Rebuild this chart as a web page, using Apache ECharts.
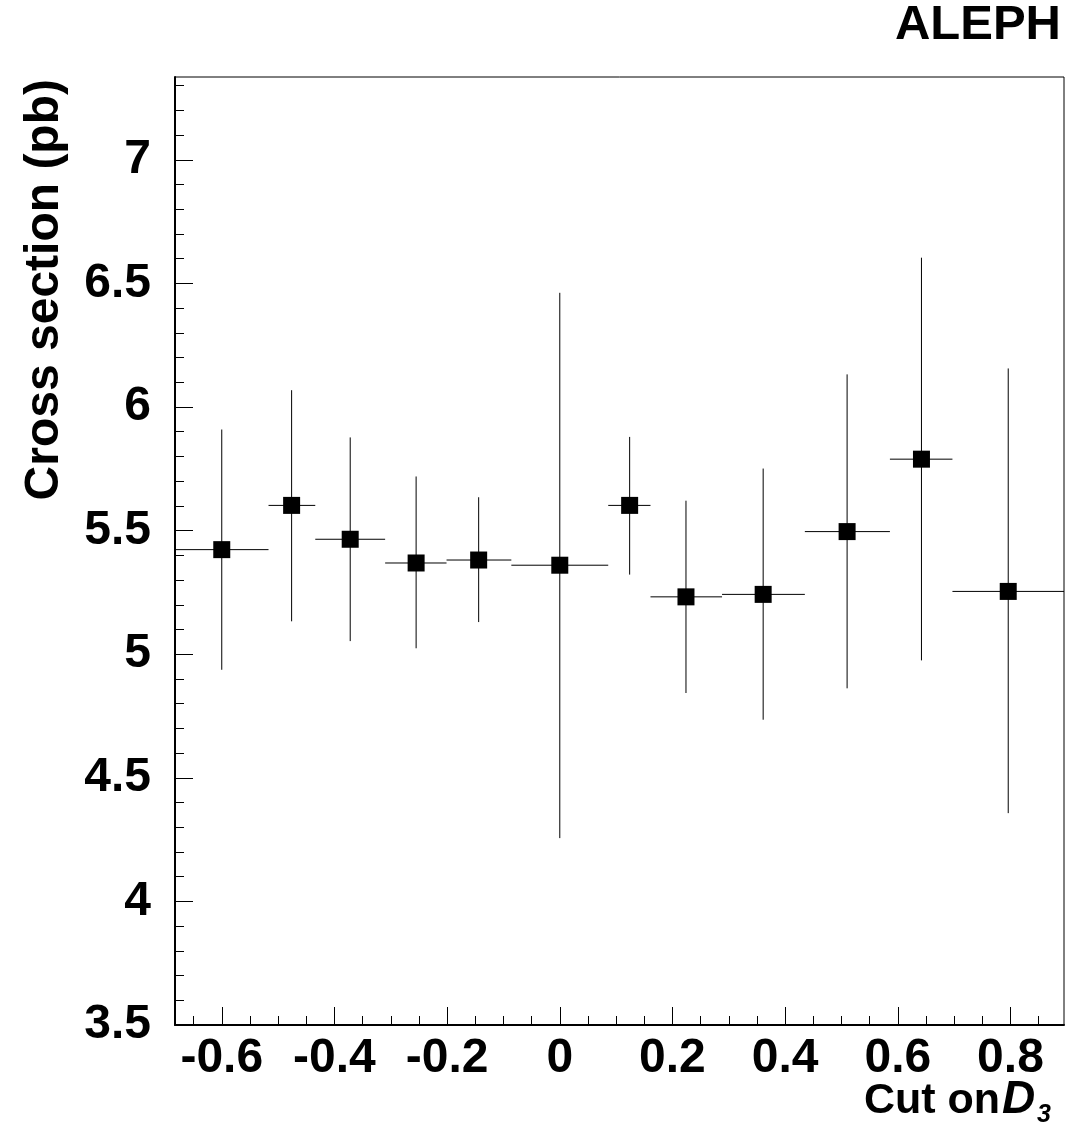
<!DOCTYPE html>
<html>
<head>
<meta charset="utf-8">
<script src="https://cdn.jsdelivr.net/npm/echarts@6/dist/echarts.min.js"></script>
<style>
html,body{margin:0;padding:0;background:#fff;}
#chart{width:1081px;height:1128px;}
</style>
</head>
<body>
<div id="chart"></div>
<script>
// Data
const xCenter = [-0.600, -0.476, -0.372, -0.255, -0.144, 0.000, 0.124, 0.224, 0.361, 0.510, 0.642, 0.796];
const xLow    = [-0.683, -0.517, -0.434, -0.310, -0.201, -0.086, 0.086, 0.161, 0.288, 0.435, 0.586, 0.697];
const xHigh   = [-0.517, -0.434, -0.310, -0.201, -0.086, 0.086, 0.161, 0.288, 0.435, 0.586, 0.697, 0.895];
const yValue  = [5.423, 5.602, 5.465, 5.369, 5.381, 5.360, 5.602, 5.232, 5.242, 5.496, 5.789, 5.254];
const yLow    = [4.937, 5.133, 5.053, 5.024, 5.130, 4.256, 5.322, 4.843, 4.735, 4.862, 4.975, 4.357];
const yHigh   = [5.909, 6.068, 5.877, 5.719, 5.635, 6.462, 5.879, 5.621, 5.751, 6.132, 6.604, 6.156];

const xMajorTicks = [-0.6, -0.4, -0.2, 0, 0.2, 0.4, 0.6, 0.8];
const xMinorTicks = [-0.65, -0.55, -0.5, -0.45, -0.35, -0.3, -0.25, -0.15, -0.1, -0.05, 0.05, 0.1, 0.15, 0.25, 0.3, 0.35, 0.45, 0.5, 0.55, 0.65, 0.7, 0.75, 0.85];
const yMajorTicks = [3.5, 4, 4.5, 5, 5.5, 6, 6.5, 7];
const yMinorTicks = [3.6, 3.7, 3.8, 3.9, 4.1, 4.2, 4.3, 4.4, 4.6, 4.7, 4.8, 4.9, 5.1, 5.2, 5.3, 5.4, 5.6, 5.7, 5.8, 5.9, 6.1, 6.2, 6.3, 6.4, 6.6, 6.7, 6.8, 6.9, 7.1, 7.2, 7.3];

const X_MIN = -0.683, X_MAX = 0.895, Y_MIN = 3.5, Y_MAX = 7.335;
const FONT = '"Liberation Sans", Arial, Helvetica, sans-serif';

const errData = xCenter.map((x, i) => [x, yValue[i], xLow[i], xHigh[i], yLow[i], yHigh[i]]);
const ptData = xCenter.map((x, i) => [x, yValue[i]]);

const chart = echarts.init(document.getElementById('chart'), null, {renderer: 'canvas'});

const labelStyle = {fontFamily: FONT, fontWeight: 'bold', fontSize: 48, color: '#000'};
const fmt = v => String(Math.round(v * 10) / 10);

chart.setOption({
  animation: false,
  backgroundColor: '#fff',
  grid: {left: 175, right: 17, top: 77, bottom: 103, show: true, borderColor: '#000', borderWidth: 1, backgroundColor: 'transparent'},
  xAxis: [
    {
      type: 'value', min: X_MIN, max: X_MAX, position: 'bottom',
      axisLine: {show: true, onZero: false, lineStyle: {color: '#000', width: 2}},
      axisTick: {show: true, inside: true, length: 18, lineStyle: {color: '#000', width: 1}, customValues: xMajorTicks},
      axisLabel: Object.assign({show: true, margin: 10, customValues: xMajorTicks, formatter: fmt}, labelStyle),
      splitLine: {show: false}
    },
    {
      type: 'value', min: X_MIN, max: X_MAX, position: 'bottom', offset: 0,
      axisLine: {show: false, onZero: false},
      axisTick: {show: true, inside: true, length: 9, lineStyle: {color: '#000', width: 1}, customValues: xMinorTicks},
      axisLabel: {show: false},
      splitLine: {show: false}
    }
  ],
  yAxis: [
    {
      type: 'value', min: Y_MIN, max: Y_MAX, position: 'left',
      axisLine: {show: true, onZero: false, lineStyle: {color: '#000', width: 2}},
      axisTick: {show: true, inside: true, length: 18, lineStyle: {color: '#000', width: 1}, customValues: yMajorTicks},
      axisLabel: Object.assign({show: true, margin: 24, padding: [5, 0, 0, 0], customValues: yMajorTicks, formatter: fmt}, labelStyle),
      splitLine: {show: false}
    },
    {
      type: 'value', min: Y_MIN, max: Y_MAX, position: 'left', offset: 0,
      axisLine: {show: false, onZero: false},
      axisTick: {show: true, inside: true, length: 9, lineStyle: {color: '#000', width: 1}, customValues: yMinorTicks},
      axisLabel: {show: false},
      splitLine: {show: false}
    }
  ],
  series: [
    {
      type: 'custom',
      xAxisIndex: 0, yAxisIndex: 0,
      data: errData,
      encode: {x: [0, 2, 3], y: [1, 4, 5]},
      renderItem: function (params, api) {
        const x = api.value(0), y = api.value(1);
        const c = api.coord([x, y]);
        const lo = api.coord([x, api.value(4)]);
        const hi = api.coord([x, api.value(5)]);
        const l = api.coord([api.value(2), y]);
        const r = api.coord([api.value(3), y]);
        const st = {stroke: '#000', lineWidth: 1, fill: null};
        return {
          type: 'group',
          children: [
            {type: 'line', shape: {x1: c[0], y1: lo[1], x2: c[0], y2: hi[1]}, style: st},
            {type: 'line', shape: {x1: l[0], y1: c[1], x2: r[0], y2: c[1]}, style: st}
          ]
        };
      },
      z: 2
    },
    {
      type: 'scatter',
      xAxisIndex: 0, yAxisIndex: 0,
      data: ptData,
      symbol: 'rect',
      symbolSize: 17,
      itemStyle: {color: '#000', opacity: 1},
      emphasis: {disabled: true},
      z: 3
    }
  ],
  graphic: [
    {
      type: 'text', x: 1061, y: 50,
      style: {text: 'ALEPH', font: 'bold 49px ' + FONT, fill: '#000', textAlign: 'right', verticalAlign: 'bottom', textVerticalAlign: 'bottom'}
    },
    {
      type: 'text', x: 45, y: 79, rotation: Math.PI / 2,
      style: {text: 'Cross section (pb)', font: 'bold 48px ' + FONT, fill: '#000', textAlign: 'right', verticalAlign: 'middle', textVerticalAlign: 'middle'}
    },
    {
      type: 'text', x: 1000, y: 1123,
      style: {text: 'Cut on', font: 'bold 43px ' + FONT, fill: '#000', textAlign: 'right', verticalAlign: 'bottom', textVerticalAlign: 'bottom'}
    },
    {
      type: 'text', x: 1002, y: 1123,
      style: {text: 'D', font: 'italic bold 46px ' + FONT, fill: '#000', textAlign: 'left', verticalAlign: 'bottom', textVerticalAlign: 'bottom'}
    },
    {
      type: 'text', x: 1037, y: 1128,
      style: {text: '3', font: 'italic bold 25px ' + FONT, fill: '#000', textAlign: 'left', verticalAlign: 'bottom', textVerticalAlign: 'bottom'}
    }
  ]
});
</script>
</body>
</html>
